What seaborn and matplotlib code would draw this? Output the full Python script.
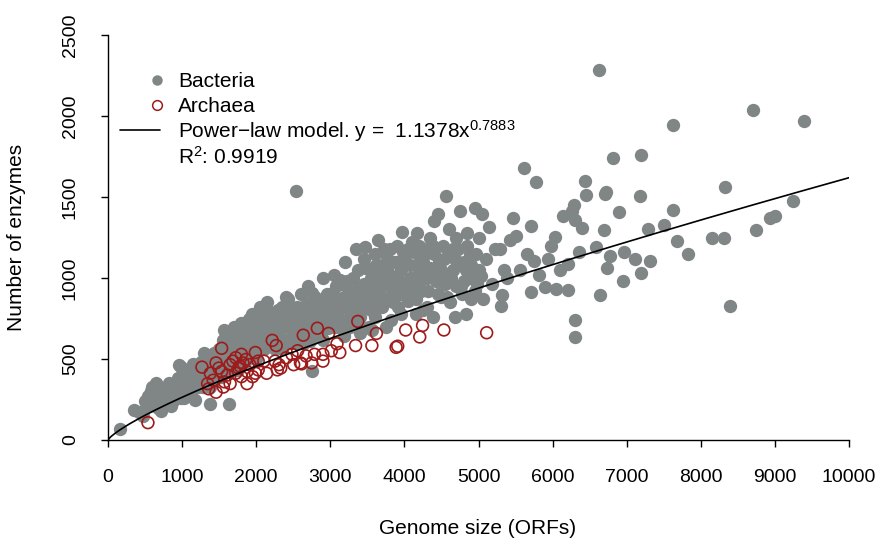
import numpy as np
import matplotlib
matplotlib.use("Agg")
import matplotlib.pyplot as plt
from matplotlib.lines import Line2D
import seaborn as sns

# ---------------- data ----------------
bact_x = [159, 357, 420, 470, 500, 540, 560, 580, 600, 620, 650, 640, 680, 700, 720, 750, 770, 800, 820, 850,
          870, 900, 930, 964, 990, 950, 1000, 1020, 1050, 1080, 1100, 1120, 1150, 1180, 1200, 1230, 1250, 1280,
          1300, 1320, 1350, 1380, 1400, 1420, 1450, 1470, 1500, 1520, 1550, 1580, 1600, 1632, 1650, 1670, 1700,
          1720, 1740, 1760, 1780, 1800, 1820, 1850, 1870, 1898, 1920, 1950, 1970, 2000, 2030, 2050, 2080, 2100,
          2120, 2150, 2180, 2200, 2220, 2250, 2280, 2300, 2330, 2350, 2380, 2400, 2430, 2450, 2470, 2500, 2520,
          2536, 2550, 2580, 2600, 2620, 2650, 2680, 2700, 2720, 2749, 2756, 2780, 2800, 2820, 2850, 2870, 2900,
          2920, 2950, 2970, 3000, 3020, 3050, 3080, 3100, 3128, 3150, 3180, 3200, 3220, 3250, 3280, 3300, 3320,
          3350, 3380, 3400, 3420, 3450, 3470, 3480, 3500, 3520, 3550, 3580, 3600, 3620, 3645, 3660, 3680, 3700,
          3720, 3750, 3780, 3800, 3820, 3850, 3870, 3900, 3920, 3950, 3971, 3990, 4020, 4050, 4080, 4100, 4120,
          4150, 4176, 4200, 4220, 4250, 4270, 4300, 4320, 4350, 4380, 4396, 4420, 4457, 4470, 4500, 4520, 4556,
          4570, 4600, 4620, 4650, 4680, 4700, 4745, 4760, 4800, 4830, 4850, 4880, 4900, 4951, 4970, 5000, 5027,
          5042, 5065, 5100, 5140, 5180, 5220, 5292, 5307, 5315, 5350, 5383, 5429, 5467, 5505, 5558, 5611, 5650,
          5710, 5710, 5748, 5771, 5820, 5900, 5938, 5980, 6036, 6052, 6100, 6143, 6203, 6204, 6264, 6287, 6302,
          6302, 6302, 6355, 6401, 6439, 6454, 6583, 6629, 6644, 6697, 6705, 6720, 6728, 6773, 6818, 6894, 6948,
          6963, 7115, 7175, 7190, 7198, 7282, 7320, 7502, 7623, 7623, 7684, 7828, 8155, 8314, 8322, 8398, 8709,
          8747, 8937, 9000, 9241, 9393,
          1050, 1150, 1250, 1350, 1450, 1550, 1600, 1650, 1700, 1750, 1800, 1850, 1900, 1950, 2000, 2050, 2100,
          2150, 2200, 2250, 2300, 2350, 2400, 2450, 2500, 2550, 2600, 2650, 2700, 2750, 2800, 2850, 2900, 2950,
          3000, 3050, 3100, 3150, 3200, 3250, 3300, 3350, 3400, 3450, 3500, 3550, 3600, 3650, 3700, 3750, 3800,
          3850, 3900, 3950, 4000, 4050, 4100, 4150, 4200, 4250, 4300, 4350, 4400, 4450, 4500, 4550, 4600, 4650,
          4700, 4750, 4800, 4850, 4900, 4950, 5000,
          620, 660, 700, 760, 820, 880, 940, 980,
          1040, 1100, 1160, 1220, 1270, 1330, 1380, 1430, 1480,
          1530, 1580, 1620, 1680, 1720, 1780, 1830, 1880, 1930, 1980, 1560, 1690,
          2020, 2060, 2110, 2170, 2230, 2270, 2320, 2370, 2420, 2480, 2140, 2410,
          2530, 2570, 2630, 2680, 2730, 2780, 2830, 2870, 2930, 2980, 2640, 2900,
          3030, 3070, 3120, 3170, 3230, 3270, 3330, 3380, 3430, 3480, 3180, 3400,
          3530, 3570, 3630, 3680, 3730, 3780, 3830, 3880, 3930, 3980, 3560, 3750, 3960,
          4030, 4070, 4130, 4180, 4230, 4280, 4330, 4380, 4430, 4480, 4160, 4310,
          4530, 4580, 4630, 4680, 4730, 4780, 4830, 4880, 4930, 4980]
bact_y = [70, 188, 175, 150, 240, 270, 210, 300, 330, 250, 350, 290, 200, 270, 180, 230, 320, 290, 250, 210,
          340, 300, 280, 465, 450, 380, 330, 260, 310, 370, 410, 290, 350, 250, 420, 380, 480, 330,
          540, 440, 400, 220, 360, 470, 500, 420, 560, 390, 620, 470, 520, 220, 590, 640, 560,
          470, 610, 680, 520, 580, 650, 700, 560, 749, 620, 680, 520, 600, 720, 650, 560, 700,
          760, 620, 680, 780, 590, 720, 650, 800, 690, 560, 740, 620, 871, 700, 780, 660, 740,
          1535, 820, 600, 700, 760, 650, 840, 720, 610, 907, 429, 780, 680, 750, 850, 640, 720,
          800, 900, 690, 760, 850, 700, 950, 800, 988, 740, 880, 680, 830, 920, 760, 1000, 860,
          720, 1050, 900, 800, 1120, 1191, 960, 850, 700, 1000, 880, 760, 1080, 1234, 920, 1050, 820,
          970, 1150, 880, 1000, 740, 1100, 930, 1200, 820, 1050, 1287, 950, 1150, 860, 1000, 1220, 900,
          1080, 1277, 950, 1120, 800, 1030, 1180, 920, 1060, 760, 1351, 980, 1398, 1100, 880, 1200, 1505,
          1000, 1150, 850, 1050, 760, 1250, 1411, 950, 1100, 780, 1200, 1000, 870, 1430, 1150, 1250, 1010,
          1398, 871, 1120, 1315, 960, 1180, 1178, 828, 892, 1050, 999, 1234, 1368, 1260, 1052, 1678, 1150,
          914, 1319, 1106, 1590, 1020, 946, 1117, 1200, 1255, 935, 1050, 1383, 1085, 924, 1415, 1448, 1358,
          743, 636, 1159, 1309, 1597, 1512, 1191, 2287, 892, 1294, 1516, 1533, 1063, 1138, 1740, 1405, 982,
          1159, 1117, 1505, 1031, 1757, 1304, 1106, 1330, 1945, 1418, 1228, 1149, 1249, 1249, 1563, 828, 2039,
          1298, 1368, 1383, 1473, 1971,
          420, 470, 350, 500, 380, 450, 650, 420, 700, 430, 720, 480, 560, 780, 500, 820, 560,
          850, 650, 560, 700, 820, 880, 600, 780, 700, 900, 780, 950, 680, 880, 760, 1000, 780,
          900, 1020, 700, 960, 1100, 800, 880, 1180, 760, 960, 1060, 800, 1150, 860, 1080, 960, 1180,
          850, 1000, 900, 1080, 1180, 1000, 870, 1200, 1100, 1000, 1250, 1150, 900, 1050, 960, 1300, 1180,
          950, 1080, 980, 1280, 1080, 920, 1050,
          320, 340, 300, 260, 350, 240, 330, 260,
          360, 330, 400, 330, 420, 470, 330, 540, 480,
          500, 560, 600, 520, 660, 600, 560, 640, 580, 700, 680, 640,
          660, 760, 640, 720, 650, 760, 610, 700, 760, 720, 800, 820,
          600, 760, 820, 700, 800, 720, 640, 820, 700, 850, 600, 620,
          780, 880, 720, 820, 980, 700, 800, 940, 860, 1060, 640, 660,
          920, 1040, 980, 880, 1180, 1040, 950, 1100, 960, 1160, 680, 700, 780,
          940, 1080, 1160, 1020, 920, 1150, 1040, 1200, 1050, 980, 780, 820,
          1120, 880, 1000, 1120, 1180, 900, 1050, 1150, 1020, 960]

arch_x = [539, 1268, 1534, 1458, 1382, 1420, 1359, 1458, 1557, 1610, 1496, 1648, 1724, 1800, 1762, 1822,
          1876, 1914, 1951, 1876, 1989, 2027, 2103, 2141, 2217, 2270, 2255, 2331, 2407, 2483, 2559, 2635,
          2597, 2673, 2787, 2825, 2901, 2977, 3014, 3090, 3128, 3341, 3371, 3561, 3622, 3888, 3910, 4017,
          4207, 4245, 4533, 5110, 1686, 1784, 1860, 1724, 1534, 2027, 1989, 1800, 1648, 1572, 1344, 2506,
          2612, 2749, 2901, 2308, 2285]
arch_y = [107, 450, 566, 476, 412, 369, 316, 295, 327, 401, 444, 465, 508, 529, 444, 476,
          423, 465, 391, 348, 540, 433, 487, 412, 615, 583, 487, 444, 508, 529, 551, 647,
          476, 519, 529, 690, 529, 658, 551, 594, 540, 583, 732, 583, 658, 572, 579, 679,
          636, 707, 679, 662, 487, 455, 497, 412, 423, 487, 412, 391, 348, 359, 348, 465,
          470, 476, 487, 465, 433]

# power-law model from the legend: y = a * x^b
model_a = 1.1378
model_b = 0.7883
model_r2 = 0.9919

x_ticks = [0, 1000, 2000, 3000, 4000, 5000, 6000, 7000, 8000, 9000, 10000]
y_ticks = [0, 500, 1000, 1500, 2000, 2500]

# ---------------- style ----------------
sns.set_style("ticks")
plt.rcParams["font.family"] = ["Liberation Sans", "DejaVu Sans"]
plt.rcParams["mathtext.default"] = "regular"
plt.rcParams["text.color"] = "black"
plt.rcParams["xtick.color"] = "black"
plt.rcParams["ytick.color"] = "black"
plt.rcParams["xtick.labelcolor"] = "black"
plt.rcParams["ytick.labelcolor"] = "black"

GRAY = "#808585"
RED = "#9E1B1B"

W, H = 881, 544
fig = plt.figure(figsize=(W / 100, H / 100), dpi=100)
ax = fig.add_axes([108 / W, 1 - 440 / H, (849 - 108) / W, (440 - 35) / H])

sns.scatterplot(x=bact_x, y=bact_y, ax=ax, color=GRAY, s=92, linewidth=0, marker="o", zorder=2)
sns.scatterplot(x=arch_x, y=arch_y, ax=ax, color=RED, s=72, marker="o",
                facecolors="none", edgecolors=RED, linewidth=1.2, zorder=3)

curve_x = np.linspace(0, 10000, 400)
curve_y = model_a * curve_x ** model_b
sns.lineplot(x=curve_x, y=curve_y, ax=ax, color="black", linewidth=1.2, zorder=4)

ax.set_xlim(0, 10000)
ax.set_ylim(0, 2500)
ax.set_xticks(x_ticks)
ax.set_yticks(y_ticks)
ax.set_xticklabels([str(t) for t in x_ticks], fontsize=14, color="black")
ax.set_yticklabels([str(t) for t in y_ticks], fontsize=14, rotation=90, va="center", color="black")
ax.tick_params(axis="both", direction="out", length=5, width=1, colors="black", pad=16)
for side in ["top", "right"]:
    ax.spines[side].set_visible(False)
for side in ["left", "bottom"]:
    ax.spines[side].set_color("black")
    ax.spines[side].set_linewidth(1)
ax.set_xlabel("")
ax.set_ylabel("")

fig.text(478 / W, 1 - 529 / H, "Genome size (ORFs)", fontsize=15, ha="center", va="center", color="black")
fig.text(17 / W, 1 - 237 / H, "Number of enzymes", fontsize=15, ha="center", va="center",
         rotation=90, color="black")

# ---------------- legend (drawn by hand) ----------------
def fy(py):
    return 1 - py / H

tx = 178 / W
fig.add_artist(Line2D([157 / W], [fy(80)], transform=fig.transFigure, marker="o", markersize=7.5,
                      markerfacecolor=GRAY, markeredgewidth=0, linestyle="none"))
fig.add_artist(Line2D([157 / W], [fy(105)], transform=fig.transFigure, marker="o", markersize=7,
                      markerfacecolor="none", markeredgecolor=RED, markeredgewidth=1.1, linestyle="none"))
fig.add_artist(Line2D([120 / W, 160 / W], [fy(130), fy(130)], transform=fig.transFigure,
                      color="black", linewidth=1.2))
fig.text(tx, fy(87), "Bacteria", fontsize=15, ha="left", va="baseline", color="black")
fig.text(tx, fy(112.5), "Archaea", fontsize=15, ha="left", va="baseline", color="black")
fig.text(tx, fy(137.5), "Power\u2212law model. y =  %.4fx$^{%.4f}$" % (model_a, model_b),
         fontsize=15, ha="left", va="baseline", color="black")
fig.text(tx, fy(164), "R$^{2}$: %.4f" % model_r2, fontsize=15, ha="left", va="baseline", color="black")

fig.savefig("out.png", dpi=100)
